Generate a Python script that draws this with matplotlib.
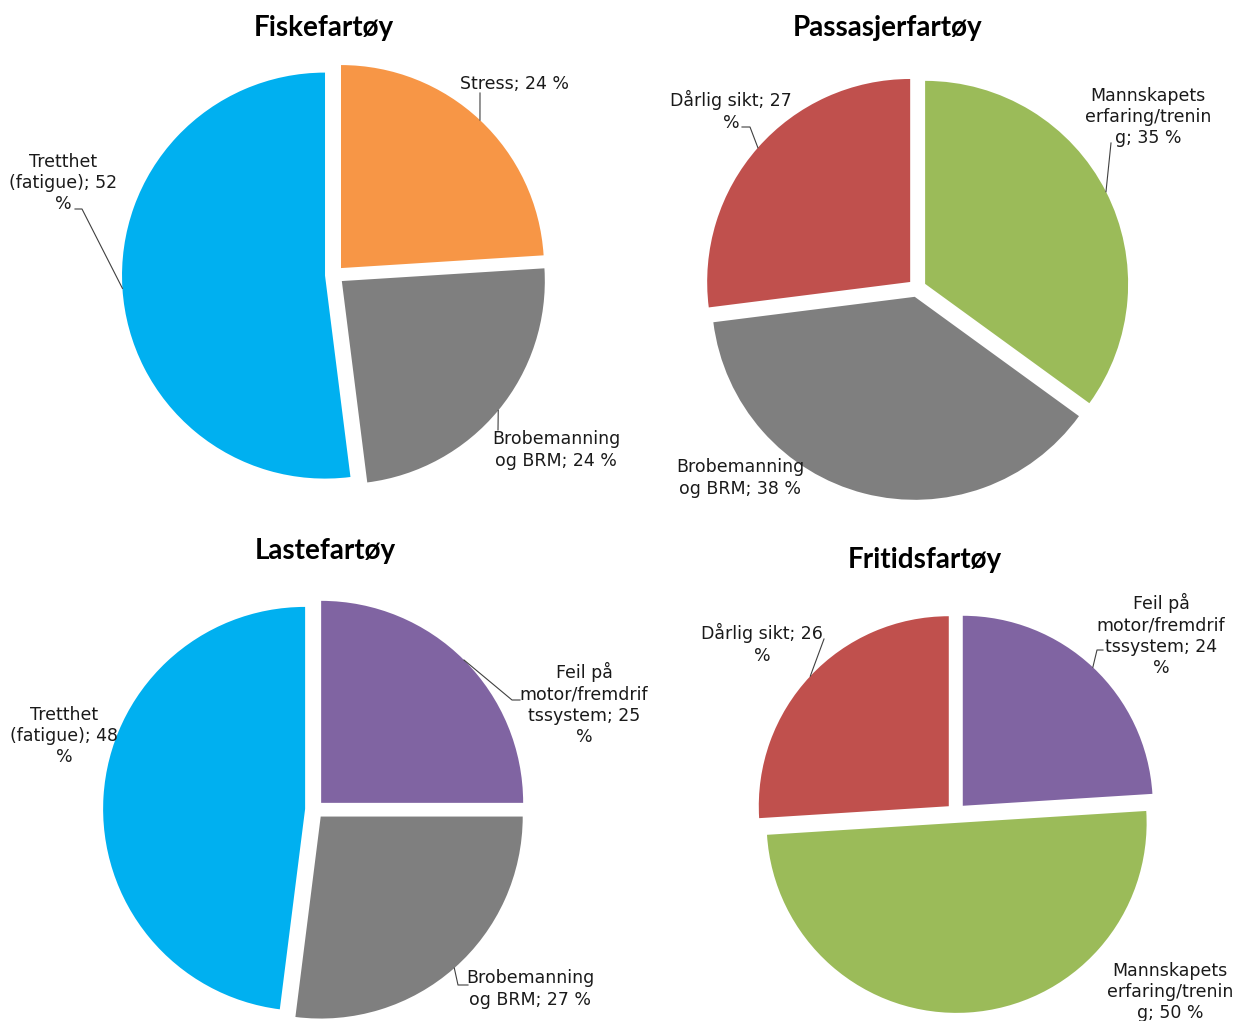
import matplotlib
matplotlib.use('Agg')
import matplotlib.pyplot as plt
import numpy as np

W, H = 1236, 1021

# --- data -------------------------------------------------------------
fiske_labels = ['Stress; {} %', 'Brobemanning\nog BRM; {} %', 'Tretthet\n(fatigue); {}\n%']
fiske_values = [24, 24, 52]

passasjer_labels = ['Mannskapets\nerfaring/trenin\ng; {} %', 'Brobemanning\nog BRM; {} %', 'Dårlig sikt; {}\n%']
passasjer_values = [35, 38, 27]

laste_labels = ['Feil på\nmotor/fremdrif\ntssystem; {}\n%', 'Brobemanning\nog BRM; {} %', 'Tretthet\n(fatigue); {}\n%']
laste_values = [25, 27, 48]

fritid_labels = ['Feil på\nmotor/fremdrif\ntssystem; {}\n%', 'Mannskapets\nerfaring/trenin\ng; {} %', 'Dårlig sikt; {}\n%']
fritid_values = [24, 50, 26]

BLUE = '#00B0F0'
ORANGE = '#F79646'
GRAY = '#7F7F7F'
RED = '#C0504D'
GREEN = '#9BBB59'
PURPLE = '#8064A2'

# --- layout (pixel coords, y from top); explode is an offset in pixels ---
charts = [
    dict(title='Fiskefartøy', title_xy=(324, 28), values=fiske_values, labels=fiske_labels,
         colors=[ORANGE, GRAY, BLUE], center=(334.5, 275), radius=203, explode=9.5,
         text=[((515, 84), [(480, 93)]),
               ((556, 450), [(498, 430)]),
               ((63, 183), [(75, 209), (82, 209)])]),
    dict(title='Passasjerfartøy', title_xy=(888, 28), values=passasjer_values, labels=passasjer_labels,
         colors=[GREEN, GRAY, RED], center=(917, 288), radius=203, explode=9.1,
         text=[((1148, 117), [(1111, 143)]),
               ((740, 478), None),
               ((731, 111), [(742, 127), (750, 127)])]),
    dict(title='Lastefartøy', title_xy=(325, 551), values=laste_values, labels=laste_labels,
         colors=[PURPLE, GRAY, BLUE], center=(314.5, 809.5), radius=202, explode=9.4,
         text=[((584, 704), [(520, 700), (512, 700)]),
               ((530, 989), [(468, 985), (458, 985)]),
               ((64, 736), None)]),
    dict(title='Fritidsfartøy', title_xy=(925, 560), values=fritid_values, labels=fritid_labels,
         colors=[PURPLE, GREEN, RED], center=(956, 813), radius=190, explode=9.9,
         text=[((1161, 635), [(1103, 650), (1097, 650)]),
               ((1170, 992), None),
               ((762, 644), [(824, 639)])]),
]

fig = plt.figure(figsize=(W / 100, H / 100), dpi=100)
ax = fig.add_axes([0, 0, 1, 1])

for c in charts:
    cx, cy = c['center']
    wedges, _ = ax.pie(c['values'], colors=c['colors'], startangle=90, counterclock=False,
                       explode=[c['explode']] * len(c['values']),
                       center=(cx, H - cy), radius=c['radius'],
                       wedgeprops=dict(linewidth=0))
    tx, ty = c['title_xy']
    ax.text(tx, H - ty, c['title'], ha='center', va='center', fontsize=20,
            fontweight='bold', family='Lato', color='black')
    for w, v, lab, (pos, elbow) in zip(wedges, c['values'], c['labels'], c['text']):
        ax.text(pos[0], H - pos[1], lab.format(v), ha='center', va='center',
                multialignment='center', fontsize=12.5, linespacing=1.22,
                family='DejaVu Sans', color='#1a1a1a', zorder=4)
        if elbow:
            # leader line ends at the wedge's mid angle on the rim
            mid = np.radians((w.theta1 + w.theta2) / 2)
            ex = w.center[0] + w.r * np.cos(mid)
            ey = w.center[1] + w.r * np.sin(mid)
            xs = [p[0] for p in elbow] + [ex]
            ys = [H - p[1] for p in elbow] + [ey]
            ax.plot(xs, ys, color='#404040', lw=0.8, zorder=3)

ax.set_xlim(0, W)
ax.set_ylim(0, H)
ax.set_aspect('equal')
ax.axis('off')

fig.savefig('out.png', dpi=100)
